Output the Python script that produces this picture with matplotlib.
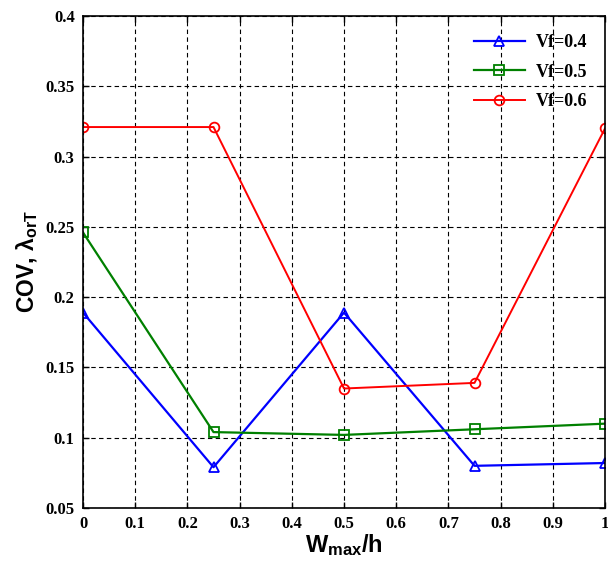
import numpy as np
from matplotlib import pyplot as plt

x = [0, 0.25, 0.5, 0.75, 1.0]
vf04 = [0.189, 0.079, 0.189, 0.080, 0.082]
vf05 = [0.246, 0.104, 0.102, 0.106, 0.110]
vf06 = [0.321, 0.321, 0.135, 0.139, 0.320]
labels = ['Vf=0.4', 'Vf=0.5', 'Vf=0.6']

plt.rcParams['mathtext.fontset'] = 'custom'
plt.rcParams['mathtext.bf'] = 'Liberation Sans:bold'
plt.rcParams['mathtext.rm'] = 'Liberation Sans:bold'

fig = plt.figure(figsize=(6.08, 5.77), dpi=100)
ax = fig.add_axes([83/608, 1 - 508/577, (605-83)/608, (508-16)/577])

ax.plot(x, vf04, color='#0000ff', marker='^', markersize=7, markerfacecolor='none',
        markeredgewidth=1.3, linewidth=1.6, label=labels[0])
ax.plot(x, vf05, color='#008000', marker='s', markersize=7, markerfacecolor='none',
        markeredgewidth=1.3, linewidth=1.6, label=labels[1])
ax.plot(x, vf06, color='#ff0000', marker='o', markersize=7, markerfacecolor='none',
        markeredgewidth=1.3, linewidth=1.4, label=labels[2])

ax.set_xlim(0, 1)
ax.set_ylim(0.05, 0.4)
ax.set_xticks(np.arange(0, 1.01, 0.1))
ax.set_xticklabels(['0', '0.1', '0.2', '0.3', '0.4', '0.5', '0.6', '0.7', '0.8', '0.9', '1'])
ax.set_yticks(np.arange(0.05, 0.401, 0.05))
ax.set_yticklabels(['0.05', '0.1', '0.15', '0.2', '0.25', '0.3', '0.35', '0.4'])
ax.grid(True, linestyle=(0, (4, 3)), color='k', linewidth=0.8)
ax.tick_params(direction='in', length=4, width=1, top=True, right=True, pad=6)
for lab in ax.get_xticklabels() + ax.get_yticklabels():
    lab.set_fontfamily('Liberation Serif')
    lab.set_fontweight('bold')
    lab.set_fontsize(12)
for s in ax.spines.values():
    s.set_linewidth(1.2)

ax.set_xlabel(r'$\mathbf{W_{max}/h}$', fontsize=17, labelpad=0)
ax.set_ylabel(r'COV, $\mathbf{\lambda_{orT}}$', fontsize=16.5, fontweight='bold',
              fontfamily='Liberation Sans', labelpad=4)

leg = ax.legend(loc='upper right', frameon=False,
                prop={'family': 'Liberation Serif', 'weight': 'bold', 'size': 13},
                handlelength=2.8, borderaxespad=0.6, labelspacing=0.7, handletextpad=0.6)

fig.savefig('out.png', dpi=100)
